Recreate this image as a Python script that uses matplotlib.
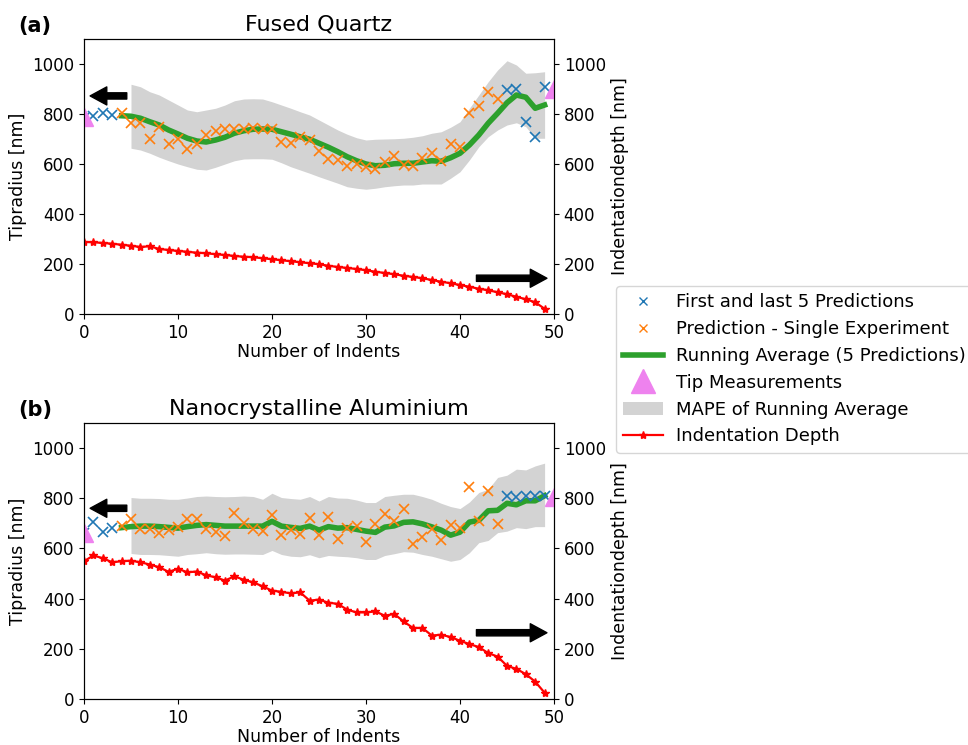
import numpy as np
import matplotlib
matplotlib.use("Agg")
import matplotlib.pyplot as plt
from matplotlib.lines import Line2D
from matplotlib.patches import Patch

plt.rcParams['font.family'] = ['DejaVu Sans']

indents = list(range(50))

# ---------------- (a) Fused Quartz ----------------
fq_title = "Fused Quartz"
fq_blue_idx = [0, 1, 2, 3, 45, 46, 47, 48, 49]
fq_blue_val = [783, 792, 805, 795, 895, 899, 767, 707, 909]
fq_orange_idx = list(range(4, 45))
fq_orange_val = [803, 765, 763, 700, 749, 679, 701, 661, 680, 716,
                 733, 740, 740, 740, 745, 740, 740, 689, 685, 707,
                 696, 652, 619, 616, 592, 600, 589, 579, 609, 633,
                 596, 592, 623, 643, 613, 680, 667, 805, 832, 889,
                 861]
fq_avg_idx = list(range(4, 50))
fq_avg_val = [793, 791, 783, 769, 756, 736, 720, 703, 692, 688,
              696, 707, 723, 733, 739, 740, 739, 729, 719, 709,
              699, 683, 667, 649, 629, 613, 600, 593, 595, 601,
              603, 603, 608, 613, 611, 625, 643, 676, 716, 763,
              803, 845, 876, 867, 823, 836]
fq_band_idx = list(range(5, 50))
fq_band_hi = [919, 909, 889, 876, 856, 836, 816, 809, 816, 823,
              836, 853, 860, 861, 860, 849, 836, 823, 809, 796,
              776, 756, 736, 719, 705, 696, 699, 700, 701, 703,
              707, 713, 723, 729, 747, 769, 823, 876, 929, 976,
              1013, 996, 963, 965, 969]
fq_band_lo = [663, 656, 643, 627, 613, 600, 589, 579, 576, 587,
              600, 613, 620, 621, 621, 619, 605, 589, 576, 563,
              549, 536, 523, 509, 503, 499, 503, 509, 513, 516,
              516, 520, 520, 520, 543, 569, 616, 669, 709, 736,
              756, 765, 749, 703, 703]
fq_tip_idx = [0, 50]
fq_tip_val = [790, 900]
fq_depth = [288, 287, 284, 281, 277, 273, 268, 271, 260, 256,
            252, 249, 245, 243, 239, 236, 232, 229, 227, 223,
            219, 215, 211, 207, 203, 199, 193, 188, 184, 180,
            175, 169, 164, 159, 153, 148, 143, 136, 129, 123,
            116, 109, 101, 95, 87, 79, 69, 59, 47, 21]

# ---------------- (b) Nanocrystalline Aluminium ----------------
al_title = "Nanocrystalline Aluminium"
al_blue_idx = [0, 1, 2, 3, 45, 46, 47, 48, 49]
al_blue_val = [660, 707, 665, 680, 809, 807, 809, 809, 809]
al_orange_idx = list(range(4, 45))
al_orange_val = [689, 719, 679, 679, 663, 673, 687, 719, 716, 676,
                 665, 649, 740, 700, 676, 669, 732, 653, 673, 656,
                 720, 653, 725, 639, 683, 689, 625, 696, 736, 709,
                 759, 616, 645, 679, 632, 693, 683, 843, 709, 829,
                 696]
al_avg_idx = list(range(4, 50))
al_avg_val = [683, 687, 689, 689, 687, 684, 681, 687, 692, 695,
              692, 689, 689, 689, 689, 689, 708, 689, 684, 680,
              689, 673, 687, 681, 683, 676, 669, 664, 685, 690,
              704, 706, 698, 686, 673, 653, 665, 705, 712, 750,
              752, 780, 774, 790, 790, 810]
al_band_idx = list(range(5, 50))
al_band_hi = [803, 800, 800, 799, 796, 796, 801, 807, 809, 807,
              806, 807, 809, 807, 796, 820, 803, 799, 796, 807,
              789, 807, 801, 800, 793, 783, 783, 807, 812, 816,
              816, 807, 796, 780, 767, 759, 785, 823, 836, 883,
              892, 916, 913, 929, 940]
al_band_lo = [580, 576, 576, 575, 572, 569, 576, 579, 583, 579,
              577, 578, 578, 577, 576, 592, 576, 569, 567, 575,
              563, 572, 569, 567, 563, 556, 556, 572, 579, 587,
              585, 576, 569, 559, 549, 556, 583, 623, 632, 663,
              669, 683, 679, 687, 687]
al_tip_idx = [0, 50]
al_tip_val = [660, 805]
al_depth = [549, 572, 561, 545, 549, 551, 545, 536, 525, 507,
            519, 505, 508, 493, 485, 472, 489, 475, 465, 449,
            432, 427, 421, 425, 392, 396, 384, 379, 356, 345,
            345, 349, 332, 339, 309, 283, 283, 253, 256, 247,
            232, 219, 207, 183, 169, 132, 120, 99, 69, 25]

# ---------------- labels ----------------
xlabel = "Number of Indents"
ylabel_left = "Tipradius [nm]"
ylabel_right = "Indentationdepth [nm]"
legend_labels = ["First and last 5 Predictions",
                 "Prediction - Single Experiment",
                 "Running Average (5 Predictions)",
                 "Tip Measurements",
                 "MAPE of Running Average",
                 "Indentation Depth"]

C_BLUE = "#1f77b4"
C_ORANGE = "#ff7f0e"
C_GREEN = "#2ca02c"
C_TIP = "violet"
C_BAND = "lightgrey"
C_RED = "red"

W, H = 968, 745
fig = plt.figure(figsize=(W / 100, H / 100), dpi=100)


def px_axes(left, top, right, bottom):
    return fig.add_axes([left / W, (H - bottom) / H, (right - left) / W, (bottom - top) / H])


def draw_panel(ax, tag, title, blue_i, blue_v, or_i, or_v, avg_i, avg_v,
               band_i, band_hi, band_lo, tip_i, tip_v, depth,
               larrow_y, rarrow_y):
    ax.fill_between(band_i, band_lo, band_hi, color=C_BAND, linewidth=0, zorder=1)
    ax.plot(avg_i, avg_v, color=C_GREEN, linewidth=4, zorder=2)
    ax.plot(blue_i, blue_v, 'x', color=C_BLUE, markersize=7, markeredgewidth=1.2, zorder=3)
    ax.plot(or_i, or_v, 'x', color=C_ORANGE, markersize=7, markeredgewidth=1.2, zorder=3)
    ax.plot(tip_i, tip_v, '^', color=C_TIP, markersize=13, linestyle='none', zorder=4)
    ax.set_xlim(0, 50)
    ax.set_ylim(0, 1100)
    ax.set_xticks(range(0, 51, 10))
    ax.set_yticks(range(0, 1001, 200))
    ax.tick_params(labelsize=12)
    ax.set_xlabel(xlabel, fontsize=12.5, labelpad=1)
    ax.set_ylabel(ylabel_left, fontsize=12.5)
    ax.set_title(title, fontsize=16, pad=6)
    ax.text(-0.14, 1.025, tag, transform=ax.transAxes, fontsize=15,
            fontweight='bold', ha='left', va='baseline')

    tw = ax.twinx()
    tw.plot(indents, depth, color=C_RED, marker='*', markersize=6,
            linewidth=1.6)
    tw.set_ylim(0, 1100)
    tw.set_yticks(range(0, 1001, 200))
    tw.tick_params(labelsize=12)
    tw.set_ylabel(ylabel_right, fontsize=12.5)

    ap = dict(facecolor='black', edgecolor='black', width=4.5, headwidth=13, headlength=12)
    tw.annotate('', xy=(0.013, larrow_y), xytext=(0.091, larrow_y),
                xycoords='axes fraction', textcoords='axes fraction', arrowprops=ap)
    tw.annotate('', xy=(0.985, rarrow_y), xytext=(0.835, rarrow_y),
                xycoords='axes fraction', textcoords='axes fraction', arrowprops=ap)
    return tw


ax1 = px_axes(84, 39, 554, 314)
draw_panel(ax1, "(a)", fq_title, fq_blue_idx, fq_blue_val, fq_orange_idx, fq_orange_val,
           fq_avg_idx, fq_avg_val, fq_band_idx, fq_band_hi, fq_band_lo,
           fq_tip_idx, fq_tip_val, fq_depth, 0.793, 0.13)

ax2 = px_axes(84, 423, 554, 699)
draw_panel(ax2, "(b)", al_title, al_blue_idx, al_blue_val, al_orange_idx, al_orange_val,
           al_avg_idx, al_avg_val, al_band_idx, al_band_hi, al_band_lo,
           al_tip_idx, al_tip_val, al_depth, 0.691, 0.24)

handles = [
    Line2D([], [], marker='x', color=C_BLUE, linestyle='none', markersize=6),
    Line2D([], [], marker='x', color=C_ORANGE, linestyle='none', markersize=6),
    Line2D([], [], color=C_GREEN, linewidth=4),
    Line2D([], [], marker='^', color=C_TIP, linestyle='none', markersize=17),
    Patch(facecolor=C_BAND, edgecolor='none'),
    Line2D([], [], color=C_RED, marker='*', markersize=6, linewidth=1.6),
]
fig.legend(handles, legend_labels, loc='upper left',
           bbox_to_anchor=(616 / W, (H - 286) / H), fontsize=13,
           borderaxespad=0, frameon=True, handlelength=2.2,
           labelspacing=0.49, handletextpad=0.7)

fig.savefig("out.png", dpi=100)
